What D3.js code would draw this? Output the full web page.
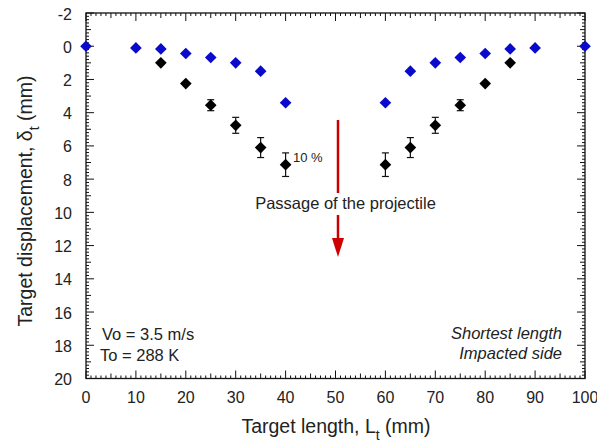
<!DOCTYPE html>
<html><head><meta charset="utf-8">
<script src="https://cdn.jsdelivr.net/npm/d3@7"></script>
<style>body{margin:0;background:#fff}svg{display:block}text{font-family:Arial,"Liberation Sans",sans-serif;fill:#222}</style>
</head><body><svg id="c" width="597" height="444"></svg>
<script>
// data
const blueX = [0,10,15,20,25,30,35,40,60,65,70,75,80,85,90,100];
const blueY = [0,0.1,0.16,0.44,0.68,1.0,1.5,3.4,3.4,1.5,1.0,0.68,0.44,0.16,0.1,0];
const blackX = [15,20,25,30,35,40,60,65,70,75,80,85];
const blackY = [1.0,2.25,3.55,4.76,6.1,7.13,7.13,6.1,4.76,3.55,2.25,1.0];
const blackErr = [0,0,0.33,0.48,0.6,0.71,0.71,0.6,0.48,0.33,0,0];
const xTicks = [0,10,20,30,40,50,60,70,80,90,100];
const yTicks = [-2,0,2,4,6,8,10,12,14,16,18,20];

const svg = d3.select("#c");
const L=86,R=585,T=13,B=378.5;
const x = d3.scaleLinear().domain([0,100]).range([L,R]);
const y = d3.scaleLinear().domain([-2,20]).range([T,B]);

// ticks (inward) on all four sides
const g = svg.append("g");
function tickLen(v, major, mid){ return Math.abs(v%major)<1e-6?8:(Math.abs(v%mid)<1e-6?5:3); }
d3.range(0,101,1).forEach(v=>{
  const l = tickLen(v,10,5);
  g.append("line").attr("x1",x(v)).attr("x2",x(v)).attr("y1",B).attr("y2",B-l).attr("stroke","#111");
  g.append("line").attr("x1",x(v)).attr("x2",x(v)).attr("y1",T).attr("y2",T+l).attr("stroke","#111");
});
d3.range(-20,201,2).map(v=>v/10).forEach(v=>{
  const vi=Math.round(v*10);
  const l = vi%20===0?8:(vi%10===0?5:3);
  g.append("line").attr("y1",y(v)).attr("y2",y(v)).attr("x1",L).attr("x2",L+l).attr("stroke","#111");
  g.append("line").attr("y1",y(v)).attr("y2",y(v)).attr("x1",R).attr("x2",R-l).attr("stroke","#111");
});
svg.append("rect").attr("x",L).attr("y",T).attr("width",R-L).attr("height",B-T)
  .attr("fill","none").attr("stroke","#111").attr("stroke-width",1.3);

// tick labels
svg.selectAll(".xt").data(xTicks).enter().append("text")
  .attr("x",d=>x(d)).attr("y",B+24).attr("text-anchor","middle").attr("font-size",16).text(d=>d);
svg.selectAll(".yt").data(yTicks).enter().append("text")
  .attr("x",L-14).attr("y",d=>y(d)+6.5).attr("text-anchor","end").attr("font-size",16).text(d=>d);

// axis titles
const xl = svg.append("text").attr("x",336).attr("y",433).attr("text-anchor","middle").attr("font-size",19.5);
xl.append("tspan").text("Target length, L");
xl.append("tspan").attr("font-size",14).attr("dy",7).text("t");
xl.append("tspan").attr("dy",-7).text(" (mm)");
const yl = svg.append("text").attr("transform","translate(32,201) rotate(-90)").attr("text-anchor","middle").attr("font-size",19.5);
yl.append("tspan").text("Target displacement, \u03b4");
yl.append("tspan").attr("font-size",14).attr("dy",7).text("t");
yl.append("tspan").attr("dy",-7).text(" (mm)");

// arrow
svg.append("line").attr("x1",338).attr("x2",338).attr("y1",120).attr("y2",193).attr("stroke","#cc0000").attr("stroke-width",2.5);
svg.append("line").attr("x1",338).attr("x2",338).attr("y1",215).attr("y2",242).attr("stroke","#cc0000").attr("stroke-width",2.5);
svg.append("path").attr("d","M332,238 L344,238 L338,257 Z").attr("fill","#cc0000");
svg.append("text").attr("x",345.5).attr("y",209).attr("text-anchor","middle").attr("font-size",16.5).text("Passage of the projectile");
svg.append("text").attr("x",293).attr("y",162).attr("font-size",13).text("10 %");

// error bars
const eb = svg.append("g").attr("stroke","#111").attr("stroke-width",1.2);
blackX.forEach((xv,i)=>{
  if(blackErr[i]<=0) return;
  const y1=y(blackY[i]-blackErr[i]), y2=y(blackY[i]+blackErr[i]);
  eb.append("line").attr("x1",x(xv)).attr("x2",x(xv)).attr("y1",y1).attr("y2",y2);
  eb.append("line").attr("x1",x(xv)-3.5).attr("x2",x(xv)+3.5).attr("y1",y1).attr("y2",y1);
  eb.append("line").attr("x1",x(xv)-3.5).attr("x2",x(xv)+3.5).attr("y1",y2).attr("y2",y2);
});
// markers
svg.selectAll(".bl").data(blueX).enter().append("path")
  .attr("d",d3.symbol().type(d3.symbolSquare).size(68))
  .attr("transform",(d,i)=>`translate(${x(d)},${y(blueY[i])}) rotate(45)`).attr("fill","#0a0acc");
svg.selectAll(".bk").data(blackX).enter().append("path")
  .attr("d",d3.symbol().type(d3.symbolSquare).size(68))
  .attr("transform",(d,i)=>`translate(${x(d)},${y(blackY[i])}) rotate(45)`).attr("fill","#000");

// notes
svg.append("text").attr("x",102).attr("y",340).attr("font-size",16.5).text("Vo = 3.5 m/s");
svg.append("text").attr("x",100).attr("y",361).attr("font-size",16.5).text("To = 288 K");
svg.append("text").attr("x",562).attr("y",339).attr("text-anchor","end").attr("font-size",16.5).attr("font-style","italic").text("Shortest length");
svg.append("text").attr("x",562).attr("y",359).attr("text-anchor","end").attr("font-size",16.5).attr("font-style","italic").text("Impacted side");
</script></body></html>
